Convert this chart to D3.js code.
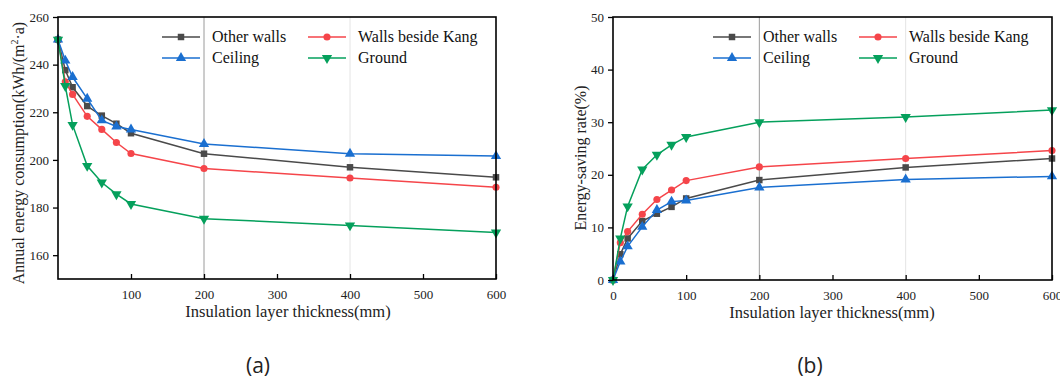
<!DOCTYPE html>
<html>
<head>
<meta charset="utf-8">
<script src="https://cdn.jsdelivr.net/npm/d3@7"></script>
<style>
  html, body { margin: 0; padding: 0; background: #fff; }
  svg { display: block; }
  text { font-family: "Liberation Serif", "Times New Roman", serif; }
  text.caption { font-family: "Open Sans", "Liberation Sans", sans-serif; }
</style>
</head>
<body>
<svg id="chart" width="1060" height="382"></svg>
<script>
// ---------- data ----------
const thickness = [0, 10, 20, 40, 60, 80, 100, 200, 400, 600];
const seriesNames = ["Other walls", "Walls beside Kang", "Ceiling", "Ground"];

// (a) Annual energy consumption kWh/(m2·a)
const consOtherWalls = [250.5, 237.7, 230.5, 222.6, 218.6, 215.2, 211.2, 202.6, 196.9, 192.7];
const consKang       = [250.5, 232.8, 227.5, 218.3, 212.8, 207.3, 202.7, 196.4, 192.4, 188.5];
const consCeiling    = [250.5, 241.7, 234.8, 225.7, 216.6, 214.0, 212.8, 206.7, 202.6, 201.6];
const consGround     = [250.5, 231.0, 214.7, 197.5, 190.5, 185.6, 181.5, 175.3, 172.5, 169.5];

// (b) Energy-saving rate %
const rateOtherWalls = [0, 4.9, 7.9, 11.2, 12.6, 13.9, 15.5, 19.0, 21.4, 23.1];
const rateKang       = [0, 7.1, 9.2, 12.5, 15.3, 17.1, 18.9, 21.5, 23.1, 24.6];
const rateCeiling    = [0, 3.5, 6.4, 10.1, 13.3, 14.9, 15.1, 17.6, 19.1, 19.7];
const rateGround     = [0, 7.9, 14.0, 21.0, 23.8, 25.7, 27.2, 30.0, 31.0, 32.3];

const xTicksA = [100, 200, 300, 400, 500, 600];
const xTicksB = [0, 100, 200, 300, 400, 500, 600];
const yTicksA = [160, 180, 200, 220, 240, 260];
const yTicksB = [0, 10, 20, 30, 40, 50];

// ---------- styles ----------
const colors = ["#4a4a4a", "#f5454a", "#1a6fd0", "#05a05c"];
const symbols = [d3.symbolSquare, d3.symbolCircle, d3.symbolTriangle, "down"];

const svg = d3.select("#chart");

function markerPath(i, size) {
  if (symbols[i] === "down") {
    return d3.symbol().type(d3.symbolTriangle).size(size)();
  }
  return d3.symbol().type(symbols[i]).size(size)();
}
function markerTransform(i, x, y) {
  return symbols[i] === "down" ? `translate(${x},${y}) rotate(180)` : `translate(${x},${y})`;
}
const markerSizes = [42, 40, 46, 46];

function drawPanel(opt) {
  const g = svg.append("g");
  const x = d3.scaleLinear().domain([0, 600]).range([opt.x0, opt.x1]);
  const y = d3.scaleLinear().domain(opt.yDomain).range([opt.y1, opt.y0]);

  // vertical reference lines
  g.append("line").attr("x1", x(200)).attr("x2", x(200)).attr("y1", opt.y0).attr("y2", opt.y1)
    .attr("stroke", "#9a9a9a").attr("stroke-width", 1);
  g.append("line").attr("x1", x(400)).attr("x2", x(400)).attr("y1", opt.y0).attr("y2", opt.y1)
    .attr("stroke", "#e4e4e4").attr("stroke-width", 1);

  // series
  opt.series.forEach((vals, i) => {
    const pts = thickness.map((t, k) => [t, vals[k]]);
    g.append("path").datum(pts)
      .attr("fill", "none").attr("stroke", colors[i]).attr("stroke-width", 1.5)
      .attr("d", d3.line().x(d => x(d[0])).y(d => y(d[1])));
    g.selectAll(null).data(pts).enter().append("path")
      .attr("d", markerPath(i, markerSizes[i]))
      .attr("transform", d => markerTransform(i, x(d[0]), y(d[1])))
      .attr("fill", colors[i]);
  });

  // axes
  const xAxis = d3.axisBottom(x).tickValues(opt.xTicks).tickSizeInner(-5).tickSizeOuter(0).tickPadding(11);
  const gx = g.append("g").attr("transform", `translate(0,${opt.y1})`).call(xAxis);
  const yAxis = d3.axisLeft(y).tickValues(opt.yTicks).tickSizeInner(5).tickSizeOuter(0).tickPadding(4);
  const gy = g.append("g").attr("transform", `translate(${opt.x0},0)`).call(yAxis);
  [gx, gy].forEach(a => {
    a.selectAll(".domain").remove();
    a.selectAll("line").attr("stroke", "#000").attr("stroke-width", 1.3);
    a.selectAll("text").attr("font-family", "Liberation Serif").attr("font-size", 13).attr("fill", "#222");
  });

  // frame
  g.append("rect").attr("x", opt.x0).attr("y", opt.y0)
    .attr("width", opt.x1 - opt.x0).attr("height", opt.y1 - opt.y0)
    .attr("fill", "none").attr("stroke", "#000").attr("stroke-width", 1.6);

  // axis labels
  g.append("text").attr("x", opt.xLabelX).attr("y", opt.y1 + 38)
    .attr("text-anchor", "middle").attr("font-size", 16.5).attr("fill", "#222")
    .text("Insulation layer thickness(mm)");
  const yl = g.append("text")
    .attr("transform", `translate(${opt.yLabelX},${opt.yLabelY}) rotate(-90)`)
    .attr("text-anchor", "middle").attr("font-size", 16).attr("fill", "#222");
  opt.yLabel(yl);

  // legend
  const lg = g.append("g");
  seriesNames.forEach((name, i) => {
    const col = i % 2 === 0 ? 0 : 1;
    const row = i < 2 ? 0 : 1;
    const cx = col === 0 ? opt.legX0 : opt.legX1;
    const cy = opt.legY + row * 21;
    lg.append("line").attr("x1", cx).attr("x2", cx + 38).attr("y1", cy).attr("y2", cy)
      .attr("stroke", colors[i]).attr("stroke-width", 1.5);
    lg.append("path").attr("d", markerPath(i, markerSizes[i]))
      .attr("transform", markerTransform(i, cx + 19, cy)).attr("fill", colors[i]);
    lg.append("text").attr("x", cx + 50).attr("y", cy + 5)
      .attr("font-size", 16).attr("fill", "#111").text(name);
  });

  // caption
  svg.append("text").attr("class", "caption").attr("x", opt.capX).attr("y", 373)
    .attr("text-anchor", "middle")
    .attr("font-size", 21).attr("fill", "#222").text(opt.caption);
}

drawPanel({
  x0: 58, x1: 496, y0: 17, y1: 279,
  yDomain: [150, 260],
  xTicks: xTicksA, yTicks: yTicksA,
  series: [consOtherWalls, consKang, consCeiling, consGround],
  xLabelX: 288,
  yLabelX: 24, yLabelY: 153,
  yLabel: t => {
    t.append("tspan").text("Annual energy consumption(kWh/(m");
    t.append("tspan").attr("font-size", 10).attr("dy", -6).text("2");
    t.append("tspan").attr("dy", 6).text("·a)");
  },
  legX0: 162, legX1: 308, legY: 37,
  capX: 258, caption: "(a)"
});

drawPanel({
  x0: 613, x1: 1052, y0: 17, y1: 280,
  yDomain: [0, 50],
  xTicks: xTicksB, yTicks: yTicksB,
  series: [rateOtherWalls, rateKang, rateCeiling, rateGround],
  xLabelX: 832,
  yLabelX: 586, yLabelY: 158,
  yLabel: t => { t.text("Energy-saving rate(%)"); },
  legX0: 713, legX1: 859, legY: 37,
  capX: 810, caption: "(b)"
});
</script>
</body>
</html>
